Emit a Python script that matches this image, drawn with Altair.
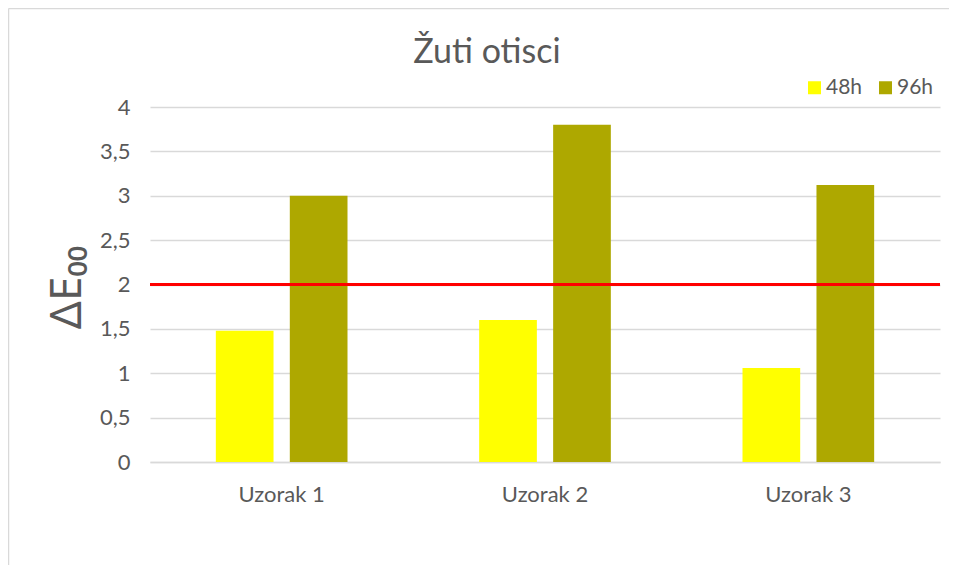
import altair as alt
import pandas as pd

categories = ["Uzorak 1", "Uzorak 2", "Uzorak 3"]
series = ["48h", "96h"]
values_48h = [1.48, 1.60, 1.06]
values_96h = [3.00, 3.80, 3.12]
threshold = [2.0]
y_ticks = [0, 0.5, 1, 1.5, 2, 2.5, 3, 3.5, 4]
colors = ["#FFFF00", "#AEA800"]

rows = []
for c, a, b in zip(categories, values_48h, values_96h):
    rows.append({"uzorak": c, "serija": "48h", "dE": a})
    rows.append({"uzorak": c, "serija": "96h", "dE": b})
df = pd.DataFrame(rows)
thr = pd.DataFrame({"granica": threshold})

FONT = "Lato"
GREY = "#595959"
GRID = "#D9D9D9"

bars = alt.Chart(df).mark_bar().encode(
    x=alt.X(
        "uzorak:N", sort=categories,
        scale=alt.Scale(paddingInner=0.5, paddingOuter=0.25),
        axis=alt.Axis(title=None, labelAngle=0, ticks=False, domainColor=GRID,
                      domainWidth=1.3, labelPadding=22, labelFontSize=22,
                      labelColor=GREY, labelFont=FONT, grid=False),
    ),
    xOffset=alt.XOffset("serija:N", sort=series,
                        scale=alt.Scale(paddingInner=0.22, paddingOuter=0)),
    y=alt.Y(
        "dE:Q", scale=alt.Scale(domain=[0, 4], nice=False),
        axis=alt.Axis(values=y_ticks, title="ΔE₀₀", domain=False, ticks=False,
                      grid=True, gridColor=GRID, gridWidth=1.3,
                      labelPadding=20, labelFontSize=22, labelColor=GREY,
                      labelFont=FONT,
                      labelExpr="replace(format(datum.value, '~g'), '.', ',')",
                      titleFont="Noto Sans", titleFontSize=44,
                      titleFontWeight="normal", titleColor=GREY,
                      titleAngle=270, titleX=-70, titleY=180,
                      titleAlign="center", titleBaseline="alphabetic"),
    ),
    color=alt.Color(
        "serija:N", sort=series,
        scale=alt.Scale(domain=series, range=colors),
        legend=alt.Legend(title=None, orient="none", direction="horizontal",
                          legendX=654, legendY=-30, symbolType="square",
                          symbolSize=169, symbolStrokeWidth=0,
                          labelFontSize=21, labelFont=FONT, labelColor=GREY,
                          labelOffset=1, columnPadding=12, padding=0),
    ),
)

rule = alt.Chart(thr).mark_rule(color="#FF0000", strokeWidth=3.2).encode(
    y="granica:Q"
)

# chart-area frame (top and left edges; the rest lies outside the picture)
frame_top = alt.Chart(thr).mark_rule(color=GRID, strokeWidth=1.5).encode(
    x=alt.value(-141.5), x2=alt.value(3000), y=alt.value(-98.5)
)
frame_left = alt.Chart(thr).mark_rule(color=GRID, strokeWidth=1.5).encode(
    x=alt.value(-141.5), y=alt.value(-98.5), y2=alt.value(3000)
)

chart = alt.layer(frame_top, frame_left, bars, rule).properties(
    width=790,
    height=355,
    autosize=alt.AutoSizeParams(type="none"),
    padding={"left": 142, "top": 99, "right": 9, "bottom": 103},
    title=alt.TitleParams("Žuti otisci", fontSize=34, font=FONT, color=GREY,
                          fontWeight="normal", anchor="middle", dx=-58,
                          offset=0, dy=62),
).configure_view(stroke=None)

chart.save("out.html", embed_options={"renderer": "svg", "actions": False})
